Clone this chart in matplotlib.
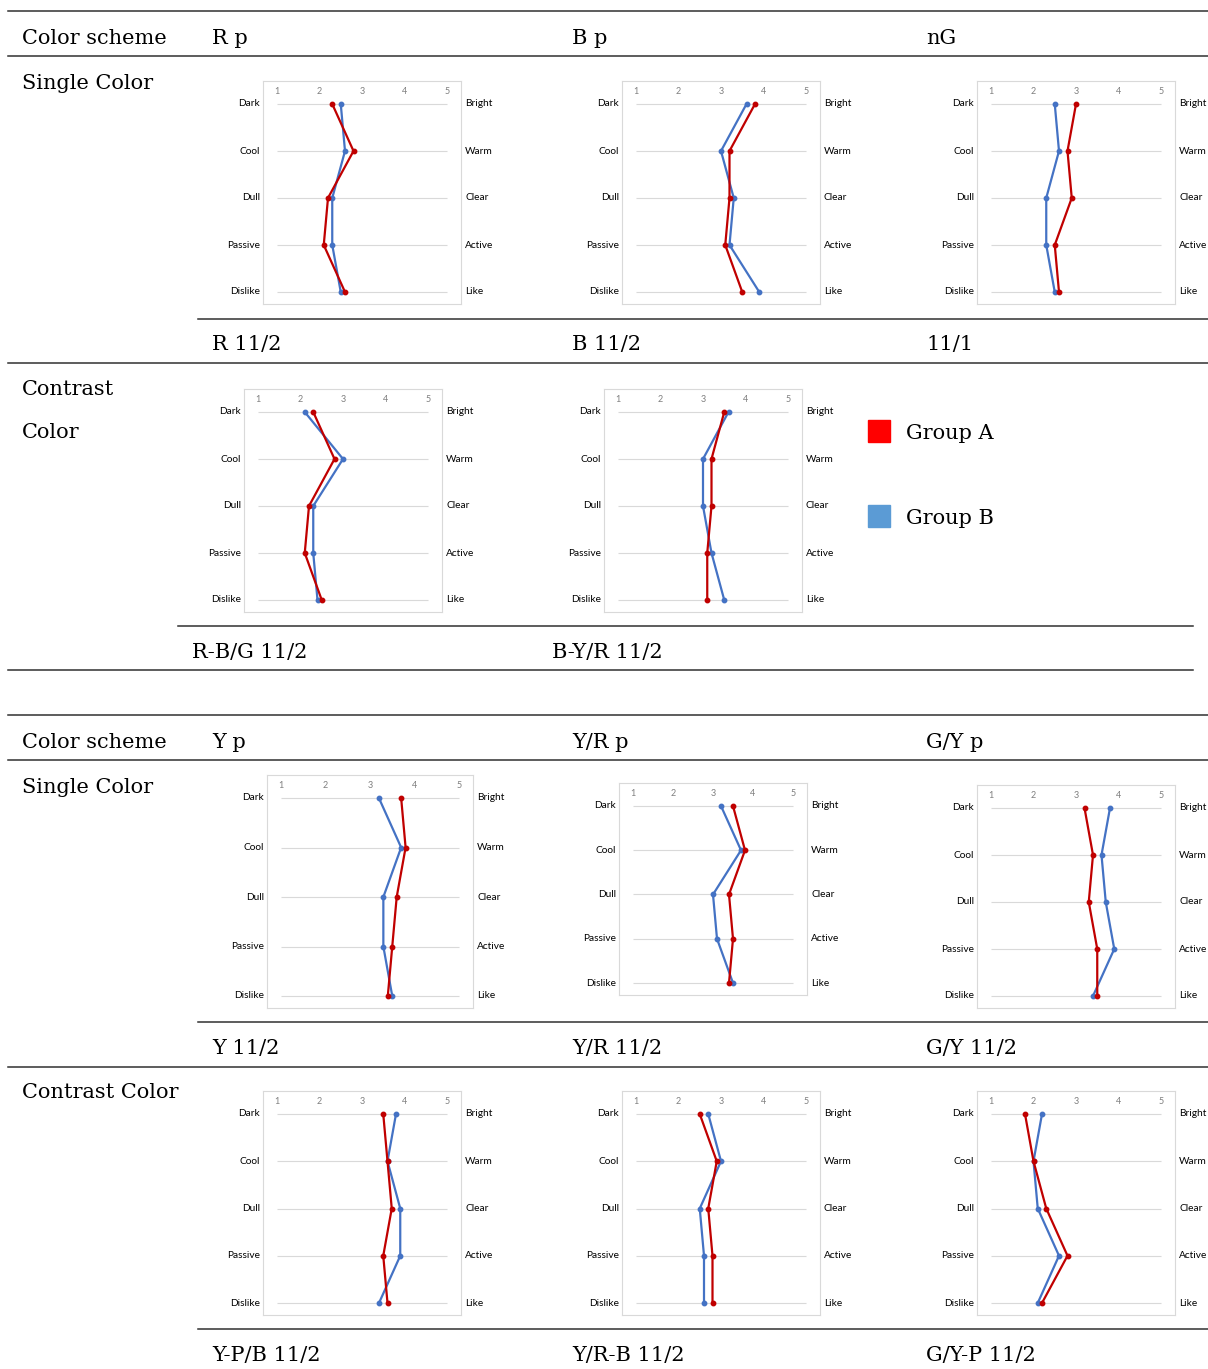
import matplotlib
matplotlib.use('Agg')
import matplotlib.pyplot as plt
from matplotlib.lines import Line2D
from matplotlib.patches import Rectangle

# semantic differential pairs (left word / right word)
left_words = ['Dark', 'Cool', 'Dull', 'Passive', 'Dislike']
right_words = ['Bright', 'Warm', 'Clear', 'Active', 'Like']
scale = [1, 2, 3, 4, 5]

# mean scores, Group A (red) and Group B (blue)
r_p_a = [2.3, 2.8, 2.2, 2.1, 2.6]
r_p_b = [2.5, 2.6, 2.3, 2.3, 2.5]
b_p_a = [3.8, 3.2, 3.2, 3.1, 3.5]
b_p_b = [3.6, 3.0, 3.3, 3.2, 3.9]
ng_a = [3.0, 2.8, 2.9, 2.5, 2.6]
ng_b = [2.5, 2.6, 2.3, 2.3, 2.5]
rbg_a = [2.3, 2.8, 2.2, 2.1, 2.5]
rbg_b = [2.1, 3.0, 2.3, 2.3, 2.4]
byr_a = [3.5, 3.2, 3.2, 3.1, 3.1]
byr_b = [3.6, 3.0, 3.0, 3.2, 3.5]
y_p_a = [3.7, 3.8, 3.6, 3.5, 3.4]
y_p_b = [3.2, 3.7, 3.3, 3.3, 3.5]
yr_p_a = [3.5, 3.8, 3.4, 3.5, 3.4]
yr_p_b = [3.2, 3.7, 3.0, 3.1, 3.5]
gy_p_a = [3.2, 3.4, 3.3, 3.5, 3.5]
gy_p_b = [3.8, 3.6, 3.7, 3.9, 3.4]
ypb_a = [3.5, 3.6, 3.7, 3.5, 3.6]
ypb_b = [3.8, 3.6, 3.9, 3.9, 3.4]
yrb_a = [2.5, 2.9, 2.7, 2.8, 2.8]
yrb_b = [2.7, 3.0, 2.5, 2.6, 2.6]
gyp_a = [1.8, 2.0, 2.3, 2.8, 2.2]
gyp_b = [2.2, 2.0, 2.1, 2.6, 2.1]

# table text
header_1 = ['R p', 'B p', 'nG']
names_1 = ['R 11/2', 'B 11/2', '11/1']
names_2 = ['R-B/G 11/2', 'B-Y/R 11/2']
header_2 = ['Y p', 'Y/R p', 'G/Y p']
names_3 = ['Y 11/2', 'Y/R 11/2', 'G/Y 11/2']
names_4 = ['Y-P/B 11/2', 'Y/R-B 11/2', 'G/Y-P 11/2']
legend_labels = ['Group A', 'Group B']

W, H = 1208, 1369
fig = plt.figure(figsize=(W / 100, H / 100), dpi=100)

RED = '#C00000'
BLUE = '#4472C4'
SERIF = 'DejaVu Serif'
SMALL = ['Lato', 'DejaVu Sans']


def fx(px):
    return px / W


def fy(py):
    return 1 - py / H


# draws one small chart; x1/x5 are pixel positions of scale 1 and 5,
# yt/yb are pixel positions of the first and last rows
def small_chart(x1, x5, yt, yb, red, blue):
    fl, fr, ft, fb = x1 - 14, x5 + 14, yt - 23, yb + 12
    ax = fig.add_axes([fx(fl), fy(fb), fx(fr - fl), (fb - ft) / H])
    ux = (x5 - x1) / 4.0
    uy = (yb - yt) / 4.0
    ax.set_xlim(1 - 14 / ux, 5 + 14 / ux)
    ax.set_ylim(4 + 12 / uy, -23 / uy)
    ax.set_xticks([])
    ax.set_yticks([])
    for s in ax.spines.values():
        s.set_color('#D9D9D9')
        s.set_linewidth(0.8)
    rows = list(range(len(left_words)))
    ax.hlines(rows, 1, 5, color='#D9D9D9', lw=0.8)
    ax.plot(blue, rows, '-o', color=BLUE, lw=1.6, ms=3.2)
    ax.plot(red, rows, '-o', color=RED, lw=1.6, ms=3.2)
    for v in scale:
        ax.text(v, -12 / uy, str(v), ha='center', va='center',
                fontsize=6.5, color='#7F7F7F', family=SMALL)
    for i in rows:
        ax.text(1 - 17 / ux, i, left_words[i], ha='right', va='center',
                fontsize=7.3, family=SMALL, clip_on=False)
        ax.text(5 + 18 / ux, i, right_words[i], ha='left', va='center',
                fontsize=7.3, family=SMALL, clip_on=False)
    return ax


def hline(y, x0, x1):
    fig.add_artist(Line2D([fx(x0), fx(x1)], [fy(y), fy(y)],
                          color='#303030', lw=1.1))


def big(x, y, s):
    fig.text(fx(x), fy(y), s, fontsize=15, family=SERIF, va='baseline')


col_x = [212, 572, 926]

# --- first table block ---
for y, x0, x1 in [(11, 8, 1208), (56, 8, 1208), (319, 198, 1208),
                  (363, 8, 1208), (626, 178, 1193), (670, 8, 1193)]:
    hline(y, x0, x1)

big(22, 44, 'Color scheme')
for x, s in zip(col_x, header_1):
    big(x, 44, s)
big(22, 89, 'Single Color')
for x, s in zip(col_x, names_1):
    big(x, 350, s)
big(22, 395, 'Contrast')
big(22, 438, 'Color')
for x, s in zip([192, 552], names_2):
    big(x, 658, s)

small_chart(277, 447, 104, 292, r_p_a, r_p_b)
small_chart(636, 806, 104, 292, b_p_a, b_p_b)
small_chart(991, 1161, 104, 292, ng_a, ng_b)
small_chart(258, 428, 412, 600, rbg_a, rbg_b)
small_chart(618, 788, 412, 600, byr_a, byr_b)

# legend squares
for y, c, s in [(431, '#FF0000', legend_labels[0]),
                (516, '#5B9BD5', legend_labels[1])]:
    fig.add_artist(Rectangle((fx(868), fy(y + 11)), fx(22), 22 / H,
                             color=c, transform=fig.transFigure))
    big(906, y + 8, s)

# --- second table block ---
for y, x0, x1 in [(715, 8, 1208), (760, 8, 1208), (1022, 198, 1208),
                  (1067, 8, 1208), (1329, 198, 1208)]:
    hline(y, x0, x1)

big(22, 748, 'Color scheme')
for x, s in zip(col_x, header_2):
    big(x, 748, s)
big(22, 793, 'Single Color')
for x, s in zip(col_x, names_3):
    big(x, 1054, s)
big(22, 1098, 'Contrast Color')
for x, s in zip(col_x, names_4):
    big(x, 1361, s)

small_chart(281, 459, 798, 996, y_p_a, y_p_b)
small_chart(633, 793, 806, 983, yr_p_a, yr_p_b)
small_chart(991, 1161, 808, 996, gy_p_a, gy_p_b)
small_chart(277, 447, 1114, 1303, ypb_a, ypb_b)
small_chart(636, 806, 1114, 1303, yrb_a, yrb_b)
small_chart(991, 1161, 1114, 1303, gyp_a, gyp_b)

fig.savefig('out.png', dpi=100)
